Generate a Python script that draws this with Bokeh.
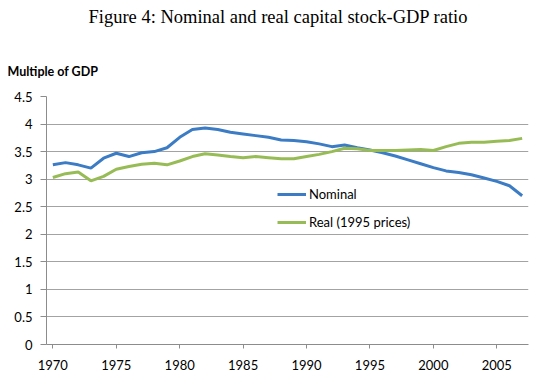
from bokeh.plotting import figure
from bokeh.models import (Range1d, FixedTicker, NumeralTickFormatter, Title,
                          Legend, LegendItem, ColumnDataSource)
from bokeh.embed import file_html
from bokeh.resources import INLINE

years = list(range(1970, 2008))
nominal = [3.26, 3.30, 3.26, 3.20, 3.38, 3.47, 3.41, 3.48, 3.50, 3.57,
           3.76, 3.90, 3.93, 3.90, 3.85, 3.82, 3.79, 3.76, 3.71, 3.70,
           3.68, 3.64, 3.59, 3.62, 3.57, 3.53, 3.48, 3.42, 3.35, 3.28,
           3.21, 3.15, 3.12, 3.08, 3.02, 2.96, 2.88, 2.70]
real = [3.03, 3.10, 3.13, 2.97, 3.05, 3.18, 3.23, 3.27, 3.29, 3.26,
        3.33, 3.41, 3.46, 3.44, 3.41, 3.39, 3.41, 3.39, 3.37, 3.37,
        3.41, 3.45, 3.50, 3.56, 3.55, 3.52, 3.52, 3.52, 3.53, 3.54,
        3.52, 3.59, 3.65, 3.67, 3.67, 3.69, 3.70, 3.74]
x_ticks = [1970, 1975, 1980, 1985, 1990, 1995, 2000, 2005]
y_ticks = [0, 0.5, 1, 1.5, 2, 2.5, 3, 3.5, 4, 4.5]
series_names = ["Nominal", "Real (1995 prices)"]

BLUE = "#3b7cc4"
GREEN = "#98bc55"
GRID = "#a3a3a3"
AXIS = "#8c8c8c"
FONT = "Lato"

src = ColumnDataSource(dict(year=years, nominal=nominal, real=real))

p = figure(width=550, height=386, output_backend="svg", toolbar_location=None,
           x_range=Range1d(1969.5, 2007.5), y_range=Range1d(0, 4.5),
           min_border_left=46, min_border_right=22, min_border_bottom=42,
           min_border_top=0)
p.outline_line_color = None
p.background_fill_color = "white"
p.border_fill_color = "white"

# main title (outermost)
p.title.text = "Figure 4: Nominal and real capital stock-GDP ratio"
p.title.align = "left"
p.title.offset = 42
p.title.text_font = "Liberation Serif"
p.title.text_font_size = "18.5px"
p.title.text_font_style = "normal"
p.title.text_color = "black"
p.title.standoff = 9

# axis caption (nearest the plot)
sub = Title(text="Multiple of GDP", align="left", offset=-39,
            text_font=FONT, text_font_size="12.5px", text_font_style="bold",
            text_color="black", standoff=36)
p.add_layout(sub, "above")
# blank spacer between the caption and the main title
spacer = Title(text=" ", text_font_size="1px", standoff=9)
p.add_layout(spacer, "above")

r1 = p.line("year", "nominal", source=src, color=BLUE, line_width=3)
r2 = p.line("year", "real", source=src, color=GREEN, line_width=3)

# axes
p.xaxis.ticker = FixedTicker(ticks=x_ticks)
p.yaxis.ticker = FixedTicker(ticks=y_ticks)
p.yaxis.formatter = NumeralTickFormatter(format="0.[0]")
for ax in (p.xaxis[0], p.yaxis[0]):
    ax.axis_line_color = AXIS
    ax.axis_line_width = 1
    ax.major_tick_line_color = AXIS
    ax.minor_tick_line_color = None
    ax.major_tick_in = 0
    ax.major_label_text_font = FONT
    ax.major_label_text_font_size = "13px"
    ax.major_label_text_color = "black"
p.xaxis.major_tick_out = 4
p.xaxis.major_label_standoff = 11
p.yaxis.major_tick_out = 6
p.yaxis.major_label_standoff = 8

p.xgrid.grid_line_color = None
p.ygrid.grid_line_color = GRID
p.ygrid.grid_line_width = 1

legend = Legend(items=[LegendItem(label=series_names[0], renderers=[r1]),
                       LegendItem(label=series_names[1], renderers=[r2])],
                location=(231, 112), orientation="vertical",
                border_line_color=None, background_fill_alpha=0,
                padding=0, margin=0, spacing=8,
                glyph_width=29, glyph_height=20, label_height=20,
                label_standoff=3, label_text_font=FONT,
                label_text_font_size="13px", label_text_color="black")
p.add_layout(legend, "center")

open("out.html", "w").write(file_html(p, INLINE))
